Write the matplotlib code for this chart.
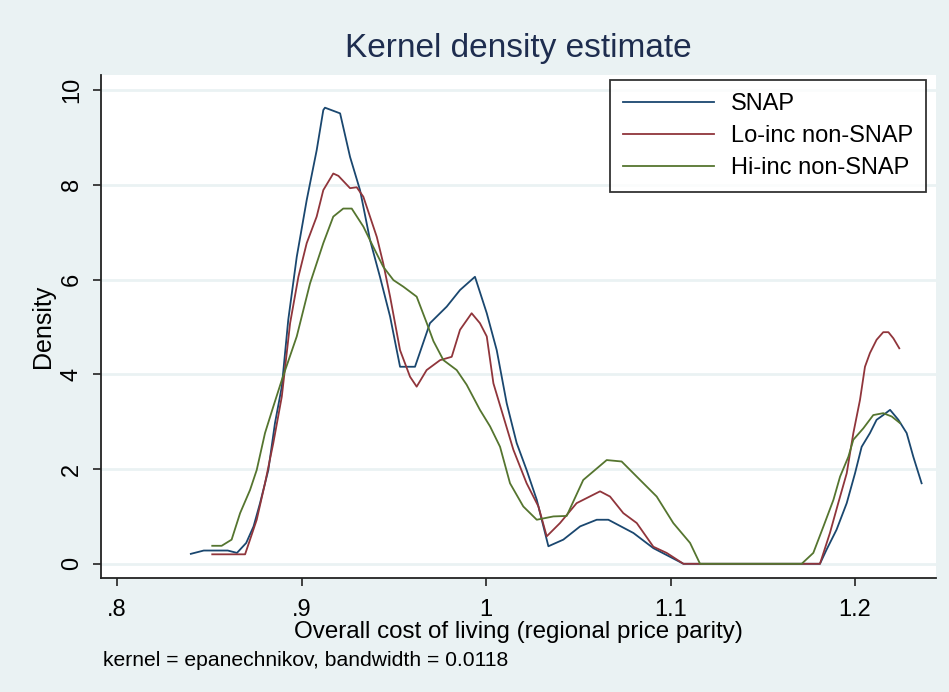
import matplotlib
matplotlib.use("Agg")
import matplotlib.pyplot as plt

# ---- data ----
snap_x = [0.840, 0.847, 0.860, 0.865, 0.870, 0.874, 0.8775, 0.882, 0.8856, 0.8893, 0.8928,
          0.8974, 0.9028, 0.9082, 0.9118, 0.9127, 0.9209, 0.9263, 0.9317, 0.9371, 0.9425,
          0.948, 0.9516, 0.9534, 0.9615, 0.9696, 0.9787, 0.9859, 0.994, 1.0004, 1.0058,
          1.0112, 1.0166, 1.022, 1.0275, 1.0338, 1.0419, 1.051, 1.060, 1.0663, 1.0799,
          1.0907, 1.107, 1.181, 1.1846, 1.190, 1.1955, 1.200, 1.2036, 1.2081, 1.2117,
          1.2153, 1.219, 1.2235, 1.228, 1.2316, 1.2361]
snap_y = [0.21, 0.28, 0.28, 0.23, 0.44, 0.79, 1.28, 1.98, 2.97, 3.74, 5.15,
          6.48, 7.68, 8.73, 9.58, 9.63, 9.51, 8.59, 7.89, 6.84, 6.06,
          5.22, 4.51, 4.16, 4.16, 5.08, 5.43, 5.78, 6.06, 5.29, 4.51,
          3.39, 2.55, 1.98, 1.35, 0.37, 0.51, 0.79, 0.93, 0.93, 0.65,
          0.33, 0.0, 0.0, 0.30, 0.72, 1.28, 1.91, 2.47, 2.76, 3.04,
          3.14, 3.25, 3.04, 2.76, 2.26, 1.70]

lo_x = [0.8516, 0.8694, 0.8757, 0.8802, 0.8847, 0.8893, 0.8938, 0.8983, 0.9028, 0.9082,
        0.9118, 0.9172, 0.920, 0.9263, 0.9299, 0.9335, 0.9408, 0.9443, 0.948, 0.9534,
        0.9588, 0.9624, 0.9678, 0.9751, 0.9814, 0.9859, 0.9922, 0.9967, 1.0004, 1.004,
        1.0094, 1.0148, 1.022, 1.0284, 1.0329, 1.0401, 1.0491, 1.0618, 1.0672, 1.0744,
        1.0817, 1.0907, 1.0979, 1.107, 1.181, 1.1864, 1.1909, 1.1955, 1.1991, 1.2027,
        1.2054, 1.2081, 1.2117, 1.2153, 1.2181, 1.2208, 1.224]
lo_y = [0.20, 0.20, 0.93, 1.70, 2.55, 3.53, 5.08, 6.06, 6.77, 7.33,
        7.89, 8.24, 8.19, 7.93, 7.95, 7.75, 6.90, 6.34, 5.64, 4.51,
        3.95, 3.74, 4.09, 4.30, 4.37, 4.94, 5.29, 5.08, 4.80, 3.81,
        3.11, 2.41, 1.70, 1.21, 0.58, 0.86, 1.28, 1.53, 1.42, 1.07,
        0.86, 0.36, 0.23, 0.0, 0.0, 0.65, 1.28, 1.91, 2.76, 3.46,
        4.16, 4.45, 4.73, 4.89, 4.89, 4.76, 4.55]

hi_x = [0.8516, 0.8567, 0.8621, 0.8667, 0.8721, 0.8757, 0.8802, 0.8847, 0.8893, 0.8974,
        0.9046, 0.9118, 0.9172, 0.9226, 0.9272, 0.9335, 0.9389, 0.9443, 0.9498, 0.9552,
        0.9624, 0.9679, 0.9715, 0.9769, 0.9841, 0.9895, 0.9967, 1.0022, 1.0076, 1.013,
        1.0202, 1.0275, 1.0365, 1.0437, 1.0527, 1.0654, 1.0735, 1.0835, 1.0925, 1.1015,
        1.1106, 1.116, 1.1711, 1.1774, 1.1829, 1.1883, 1.1919, 1.1964, 1.1991, 1.2045,
        1.2099, 1.2153, 1.2199, 1.2244]
hi_y = [0.38, 0.38, 0.51, 1.07, 1.56, 1.98, 2.76, 3.32, 3.88, 4.80,
        5.92, 6.77, 7.33, 7.50, 7.50, 7.12, 6.69, 6.27, 5.99, 5.85,
        5.64, 5.08, 4.70, 4.30, 4.09, 3.78, 3.25, 2.90, 2.47, 1.70,
        1.21, 0.93, 1.00, 1.01, 1.77, 2.19, 2.16, 1.77, 1.42, 0.86,
        0.44, 0.0, 0.0, 0.23, 0.79, 1.35, 1.84, 2.26, 2.62, 2.86,
        3.14, 3.18, 3.11, 2.97]

series_labels = ["SNAP", "Lo-inc non-SNAP", "Hi-inc non-SNAP"]
x_ticks = [0.8, 0.9, 1.0, 1.1, 1.2]
x_tick_labels = [".8", ".9", "1", "1.1", "1.2"]
y_ticks = [0, 2, 4, 6, 8, 10]
y_tick_labels = ["0", "2", "4", "6", "8", "10"]

# ---- style ----
FONT = ["Liberation Sans", "DejaVu Sans"]
plt.rcParams["font.family"] = FONT
BG = "#EAF2F3"
colors = ["#1A476F", "#90353B", "#55752F"]

fig = plt.figure(figsize=(9.49, 6.92), dpi=100, facecolor=BG)
ax = fig.add_axes([101 / 949, 1 - 578 / 692, (936 - 101) / 949, (578 - 75) / 692])
ax.set_facecolor("white")

for xs, ys, c, lab in zip([snap_x, lo_x, hi_x], [snap_y, lo_y, hi_y], colors, series_labels):
    ax.plot(xs, ys, color=c, lw=1.3, label=lab, zorder=3)

ax.set_xlim(0.7913, 1.2439)
ax.set_ylim(-0.30, 10.32)
ax.set_xticks(x_ticks)
ax.set_xticklabels(x_tick_labels, fontsize=17)
ax.set_yticks(y_ticks)
ax.set_yticklabels(y_tick_labels, fontsize=17, rotation=90, va="center")
ax.tick_params(axis="both", direction="out", length=6, width=1.2, color="#222222")
ax.tick_params(axis="x", pad=9)
ax.tick_params(axis="y", pad=7)
ax.grid(axis="y", color=BG, lw=2, zorder=0)
ax.set_axisbelow(True)
for s in ["top", "right"]:
    ax.spines[s].set_visible(False)
for s in ["left", "bottom"]:
    ax.spines[s].set_color("#222222")
    ax.spines[s].set_linewidth(1.3)

ax.set_xlabel("Overall cost of living (regional price parity)", fontsize=17.4, labelpad=0)
ax.set_ylabel("Density", fontsize=18, labelpad=4)
fig.text(0.5 * (101 + 936) / 949, 1 - 49 / 692, "Kernel density estimate",
         ha="center", va="center", fontsize=24, color="#1E2D4F")
fig.text(103 / 949, 1 - 660 / 692, "kernel = epanechnikov, bandwidth = 0.0118",
         ha="left", va="center", fontsize=15.2)

leg = ax.legend(loc="upper right", bbox_to_anchor=(926 / 949, 1 - 80 / 692),
                bbox_transform=fig.transFigure, borderaxespad=0, fontsize=17,
                frameon=True, fancybox=False, edgecolor="black", handlelength=3.85,
                handletextpad=0.7, labelspacing=0.42, borderpad=0.55)
leg.get_frame().set_linewidth(1.3)

fig.savefig("out.png", dpi=100, facecolor=BG)
